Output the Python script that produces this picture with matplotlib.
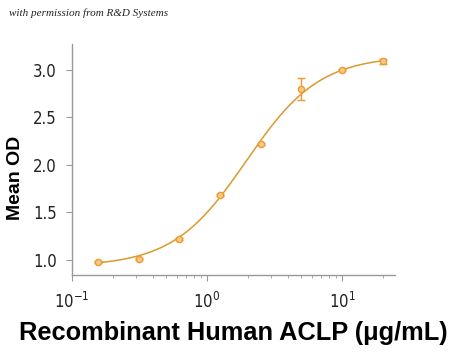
import numpy as np
import matplotlib
matplotlib.use("Agg")
import matplotlib.pyplot as plt
from matplotlib import font_manager as fm

conc = [0.156, 0.3125, 0.625, 1.25, 2.5, 5.0, 10.0, 20.0]
mean_od = [0.98, 1.01, 1.22, 1.68, 2.22, 2.80, 3.00, 3.09]
err = [0.01, 0.01, 0.01, 0.01, 0.01, 0.12, 0.01, 0.03]
xtick_vals = [0.1, 1, 10]
xtick_labels = ['$10^{-1}$', '$10^{0}$', '$10^{1}$']
ytick_vals = [1.0, 1.5, 2.0, 2.5, 3.0]
ytick_labels = ['1.0', '1.5', '2.0', '2.5', '3.0']

# 4-parameter logistic fit parameters
fit_bottom, fit_top, fit_ec50, fit_hill = 0.93, 3.15, 1.95, 1.6

color_pt = '#EE9A2E'
color_line = '#D99A2E'
gray = '#9a9a9a'

names = {f.name for f in fm.fontManager.ttflist}
cond = [n for n in ['Liberation Sans Narrow', 'DejaVu Sans Condensed'] if n in names]
plt.rcParams['mathtext.default'] = 'regular'
plt.rcParams['font.family'] = cond + ['DejaVu Sans']
plt.rcParams['font.stretch'] = 'condensed'

fig = plt.figure(figsize=(4.5, 3.52), dpi=100)
ax = fig.add_axes([0.16, 0.219, 0.718, 0.655])

xs = np.logspace(np.log10(conc[0]), np.log10(conc[-1]), 300)
ys = fit_bottom + (fit_top - fit_bottom) * (xs / fit_ec50) ** fit_hill / (1 + (xs / fit_ec50) ** fit_hill)
ax.plot(xs, ys, color=color_line, lw=1.1, zorder=2)
ax.errorbar(conc, mean_od, yerr=err, fmt='o', ms=4.5, mfc='#F7C98A', mec=color_pt,
            mew=1.0, ecolor=color_pt, elinewidth=1.0, capsize=3, zorder=3)

ax.set_xscale('log')
ax.set_xlim(0.1, 24.7)
ax.set_ylim(0.84, 3.27)
ax.set_xticks(xtick_vals)
ax.set_xticklabels(xtick_labels)
ax.set_yticks(ytick_vals)
ax.set_yticklabels(ytick_labels)

for s in ['top', 'right']:
    ax.spines[s].set_visible(False)
for s in ['left', 'bottom']:
    ax.spines[s].set_color(gray)
    ax.spines[s].set_linewidth(1.0)

ax.tick_params(axis='both', which='major', colors=gray, length=4, labelcolor='#222222', labelsize=12)
ax.tick_params(axis='x', which='minor', colors=gray, length=2.5)
ax.tick_params(axis='x', which='major', pad=8)
ax.tick_params(axis='y', which='major', pad=7)

bold = ['Liberation Sans', 'DejaVu Sans']
ax.set_ylabel('Mean OD', fontsize=14, fontweight='heavy', family=bold, fontstretch='normal')
ax.yaxis.set_label_coords(24 / 450, 1 - 177.5 / 352, transform=fig.transFigure)
ax.set_xlabel('Recombinant Human ACLP (\u03bcg/mL)', fontsize=18.3, fontweight='bold',
              family=bold, fontstretch='normal', labelpad=7)

fig.text(0.02, 0.955, 'with permission from R&D Systems', fontsize=8, style='italic',
         family=['Liberation Serif', 'DejaVu Serif'], color='#222222')

fig.savefig('out.png', dpi=100, facecolor='white')
